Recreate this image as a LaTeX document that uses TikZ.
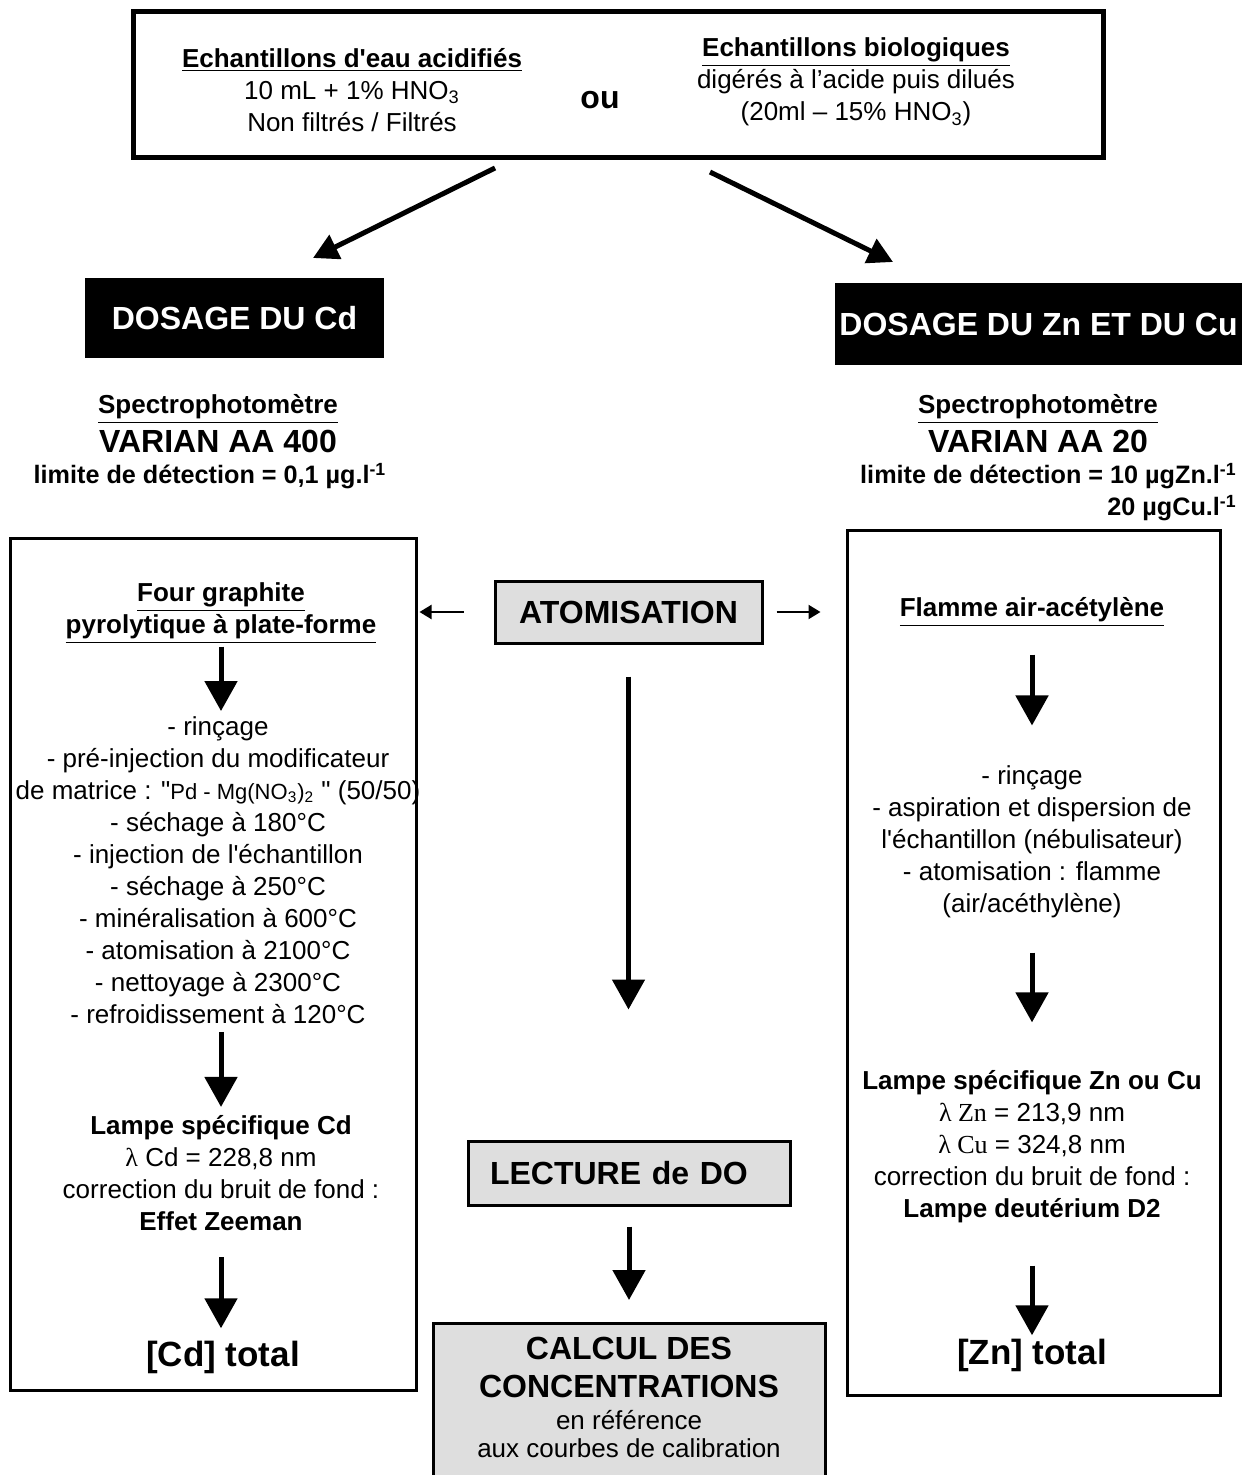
\documentclass[tikz,border=0pt]{standalone}
\usepackage{fontspec}
\setmainfont{Liberation Sans}[Ligatures=TeXOff]
\newfontfamily\timesfont{Liberation Serif}
\usetikzlibrary{arrows.meta,positioning}
\definecolor{fondgris}{gray}{0.87}
\tikzset{
  flechegrosse/.style={line width=2.5pt,-{Triangle[length=15pt,width=16pt]}},
  flechediag/.style={line width=2.5pt,-{Triangle[length=12.5pt,width=13pt]}},
  flechefine/.style={line width=1pt,-{Triangle[length=6pt,width=7pt]}},
  boitenoire/.style={fill=black,text=white,inner sep=0pt,minimum height=40pt,
    font=\fontsize{16}{19}\selectfont\bfseries},
  boitegrise/.style={draw,line width=1.5pt,fill=fondgris,inner sep=0pt,
    font=\fontsize{16}{19}\selectfont\bfseries},
  cadre/.style={draw,line width=1.5pt,inner sep=0pt},
  texte/.style={align=center,inner sep=0pt,font=\fontsize{13}{16}\selectfont},
  gras/.style={texte,font=\fontsize{13}{16}\selectfont\bfseries},
  titre/.style={inner sep=0pt,font=\fontsize{16}{19}\selectfont\bfseries},
}
\begin{document}
\begin{tikzpicture}[x=0.5pt,y=-0.5pt]
\useasboundingbox (0,0) rectangle (1242,1475);
% echantillons
\node[draw,line width=2.5pt,minimum width=485pt,minimum height=73pt] (ech) at (618,85) {};
\node[texte] (eau) at (352,90) {\textbf{\underline{Echantillons d'eau acidifiés}}\\
  10 mL + 1\% HNO\textsubscript{3}\\Non filtrés / Filtrés};
\node[titre] (ou) at (600,100) {ou};
\node[texte] (bio) at (856,82) {\textbf{\underline{Echantillons biologiques}}\\
  digérés à l’acide puis dilués\\(20ml – 15\% HNO\textsubscript{3})};
% deux dosages
\node[boitenoire,minimum width=149.5pt] (cd) at (234.5,318) {DOSAGE DU Cd};
\node[boitenoire,minimum width=203.5pt,minimum height=41pt] (zncu) at (1038.5,324) {DOSAGE DU Zn ET DU Cu};
\coordinate (gD) at (495,168);
\coordinate (gA) at (313,258);
\coordinate (dD) at (710,172);
\coordinate (dA) at (893,262);
\draw[flechediag] (gD) -- (gA);
\draw[flechediag] (dD) -- (dA);
% spectrophotometres
\node[gras] (specL) at (218,409) {\underline{Spectrophotomètre}};
\node[titre] (varL) at (218,441) {VARIAN AA 400};
\node[gras,font=\fontsize{12.6}{15}\selectfont\bfseries] (limL) at (210,476) {limite de détection = 0,1 µg.l\textsuperscript{-1}};
\node[gras] (specR) at (1038,409) {\underline{Spectrophotomètre}};
\node[titre] (varR) at (1038,441) {VARIAN AA 20};
\node[gras,font=\fontsize{12.6}{15}\selectfont\bfseries,anchor=east] (limR) at (1237,476) {limite de détection = 10 µgZn.l\textsuperscript{-1}};
\node[gras,font=\fontsize{12.6}{15}\selectfont\bfseries,anchor=east] (limR2) at (1237,508) {20 µgCu.l\textsuperscript{-1}};
% cadres
\node[cadre,minimum width=203pt,minimum height=426pt] (cadreL) at (213,964) {};
\node[cadre,minimum width=186.5pt,minimum height=432.5pt] (cadreR) at (1033.5,962.5) {};
\node[boitegrise,minimum width=133.5pt,minimum height=31pt] (atom) at (628.5,612) {ATOMISATION};
\draw[flechefine,shorten <=15pt,shorten >=1pt] (atom.west) -- (atom.west -| cadreL.east);
\draw[flechefine,shorten <=6.5pt,shorten >=12.5pt] (atom.east) -- (atom.east -| cadreR.west);
% four graphite
\node[gras] (four) at (221,613) {\underline{Four graphite}\\\underline{pyrolytique à plate-forme}};
\node[texte] (etapes) at (218,870) {- rinçage\\- pré-injection du modificateur\\
  de matrice : "{\fontsize{11}{16}\selectfont Pd - Mg(NO\textsubscript{3})\textsubscript{2}} " (50/50)\\
  - séchage à 180°C\\- injection de l'échantillon\\- séchage à 250°C\\
  - minéralisation à 600°C\\- atomisation à 2100°C\\- nettoyage à 2300°C\\
  - refroidissement à 120°C};
\node[texte] (lampeL) at (221,1173) {\textbf{Lampe spécifique Cd}\\{\timesfont λ} Cd = 228,8 nm\\
  correction du bruit de fond :\\\textbf{Effet Zeeman}};
\node[titre,font=\fontsize{17.5}{21}\selectfont\bfseries] (totL) at (223,1357) {[Cd] total};
\draw[flechegrosse,shorten <=1.5pt,shorten >=2.5pt] (four.south) -- (four.south |- etapes.north);
\draw[flechegrosse,shorten <=4pt,shorten >=4pt] (etapes.south -| four.south) -- (four.south |- lampeL.north);
\draw[flechegrosse,shorten <=13pt,shorten >=6pt] (lampeL.south -| four.south) -- (four.south |- totL.north);
% flamme
\node[gras] (flamme) at (1032,612) {\underline{Flamme air-acétylène}};
\node[texte] (aspir) at (1032,842) {- rinçage\\- aspiration et dispersion de\\
  l'échantillon (nébulisateur)\\- atomisation : flamme\\(air/acéthylène)};
\node[texte] (lampeR) at (1032,1147) {\textbf{Lampe spécifique Zn ou Cu}\\
  {\timesfont λ Zn} = 213,9 nm\\{\timesfont λ Cu} = 324,8 nm\\
  correction du bruit de fond :\\\textbf{Lampe deutérium D2}};
\node[titre,font=\fontsize{17.5}{21}\selectfont\bfseries] (totR) at (1032,1355) {[Zn] total};
\draw[flechegrosse,shorten <=14pt,shorten >=20pt] (flamme.south) -- (flamme.south |- aspir.north);
\draw[flechegrosse,shorten <=17pt,shorten >=24pt] (aspir.south) -- (aspir.south |- lampeR.north);
\draw[flechegrosse,shorten <=21pt,shorten >=1.5pt] (lampeR.south) -- (lampeR.south |- totR.north);
% lecture et calcul
\node[boitegrise,text width=139pt,align=left,inner xsep=11pt,minimum height=32pt] (lecture) at (629,1173) {LECTURE de DO};
\node[boitegrise,minimum width=196pt,minimum height=100pt,anchor=north] (calcbox) at (629,1322) {};
\node[texte,below=7.5pt of calcbox.north] (calc) {{\fontsize{16}{19}\selectfont\bfseries CALCUL DES}\\[3pt]
  {\fontsize{16}{19}\selectfont\bfseries CONCENTRATIONS}\\en référence\\[-2pt]aux courbes de calibration};
\draw[flechegrosse,shorten <=16pt,shorten >=65pt] (atom.south) -- (lecture.north -| atom.south);
\draw[flechegrosse,shorten <=10pt,shorten >=11pt] (lecture.south) -- (calcbox.north);
\end{tikzpicture}
\end{document}
